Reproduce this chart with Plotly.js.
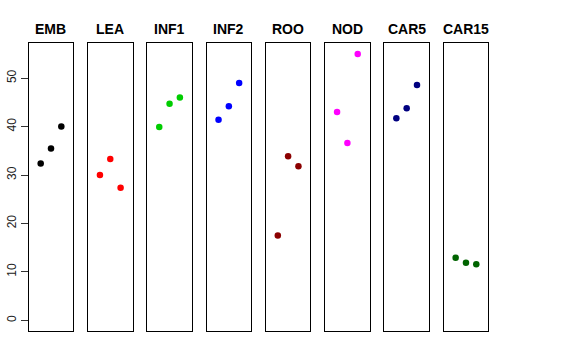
<!DOCTYPE html>
<html><head><meta charset="utf-8">
<script src="https://cdn.plot.ly/plotly-3.0.1.min.js"></script>
<style>html,body{margin:0;padding:0;background:#fff;}#chart{width:576px;height:360px;}</style>
</head><body><div id="chart"></div>
<script>
const categories = ["EMB","LEA","INF1","INF2","ROO","NOD","CAR5","CAR15"];
const colors = ["#000000","#FF0000","#00CD00","#0000FF","#8B0000","#FF00FF","#000080","#006400"];
const positions = [1,2,3];
const EMB = [32.4,35.5,40.0];
const LEA = [30.0,33.3,27.4];
const INF1 = [39.9,44.7,46.0];
const INF2 = [41.4,44.2,49.0];
const ROO = [17.5,33.9,31.8];
const NOD = [43.0,36.6,55.0];
const CAR5 = [41.7,43.8,48.6];
const CAR15 = [12.9,11.9,11.6];
const yTicks = [0,10,20,30,40,50];
const series = [EMB,LEA,INF1,INF2,ROO,NOD,CAR5,CAR15];

const W=576,H=360;
const left0=28.7, pw=44.6, pitch=59.28;
const yTop=43.3, yBot=331;
const data=[]; const layout={width:W,height:H,margin:{l:0,r:0,t:0,b:0},showlegend:false,
  paper_bgcolor:"#fff",plot_bgcolor:"#fff",annotations:[],font:{family:"Liberation Sans, Arial, sans-serif"}};
categories.forEach((c,i)=>{
  const n=i+1; const xs=n===1?"":n;
  data.push({x:positions,y:series[i],type:"scatter",mode:"markers",xaxis:"x"+xs,yaxis:"y"+xs,
    marker:{color:colors[i],size:6.5},hoverinfo:"skip"});
  const x0=(left0+i*pitch)/W, x1=(left0+i*pitch+pw)/W;
  layout["xaxis"+xs]={domain:[x0,x1],range:[-0.16,4.16],showgrid:false,zeroline:false,showticklabels:false,
    ticks:"",showline:true,mirror:true,linecolor:"#000",linewidth:1,anchor:"y"+xs,fixedrange:true};
  const ya={domain:[(H-yBot)/H,(H-yTop)/H],range:[-2.2,57.2],showgrid:false,zeroline:false,
    showline:true,mirror:true,linecolor:"#000",linewidth:1,anchor:"x"+xs,fixedrange:true};
  if(n===1){
    Object.assign(ya,{tickvals:yTicks,ticktext:yTicks.map(String),ticks:"outside",ticklen:7,tickcolor:"#333",
      tickangle:-90,tickfont:{size:12,color:"#222",family:"Liberation Sans, Arial, sans-serif"},showticklabels:true});
  } else {
    Object.assign(ya,{showticklabels:false,ticks:""});
  }
  layout["yaxis"+xs]=ya;
  layout.annotations.push({text:"<b>"+c+"</b>",xref:"paper",yref:"paper",x:(x0+x1)/2,y:(H-29.3)/H,
    xanchor:"center",yanchor:"middle",showarrow:false,font:{size:14,color:"#000",family:"Liberation Sans, Arial, sans-serif"}});
});
Plotly.newPlot("chart",data,layout,{staticPlot:true,displayModeBar:false});
</script></body></html>
